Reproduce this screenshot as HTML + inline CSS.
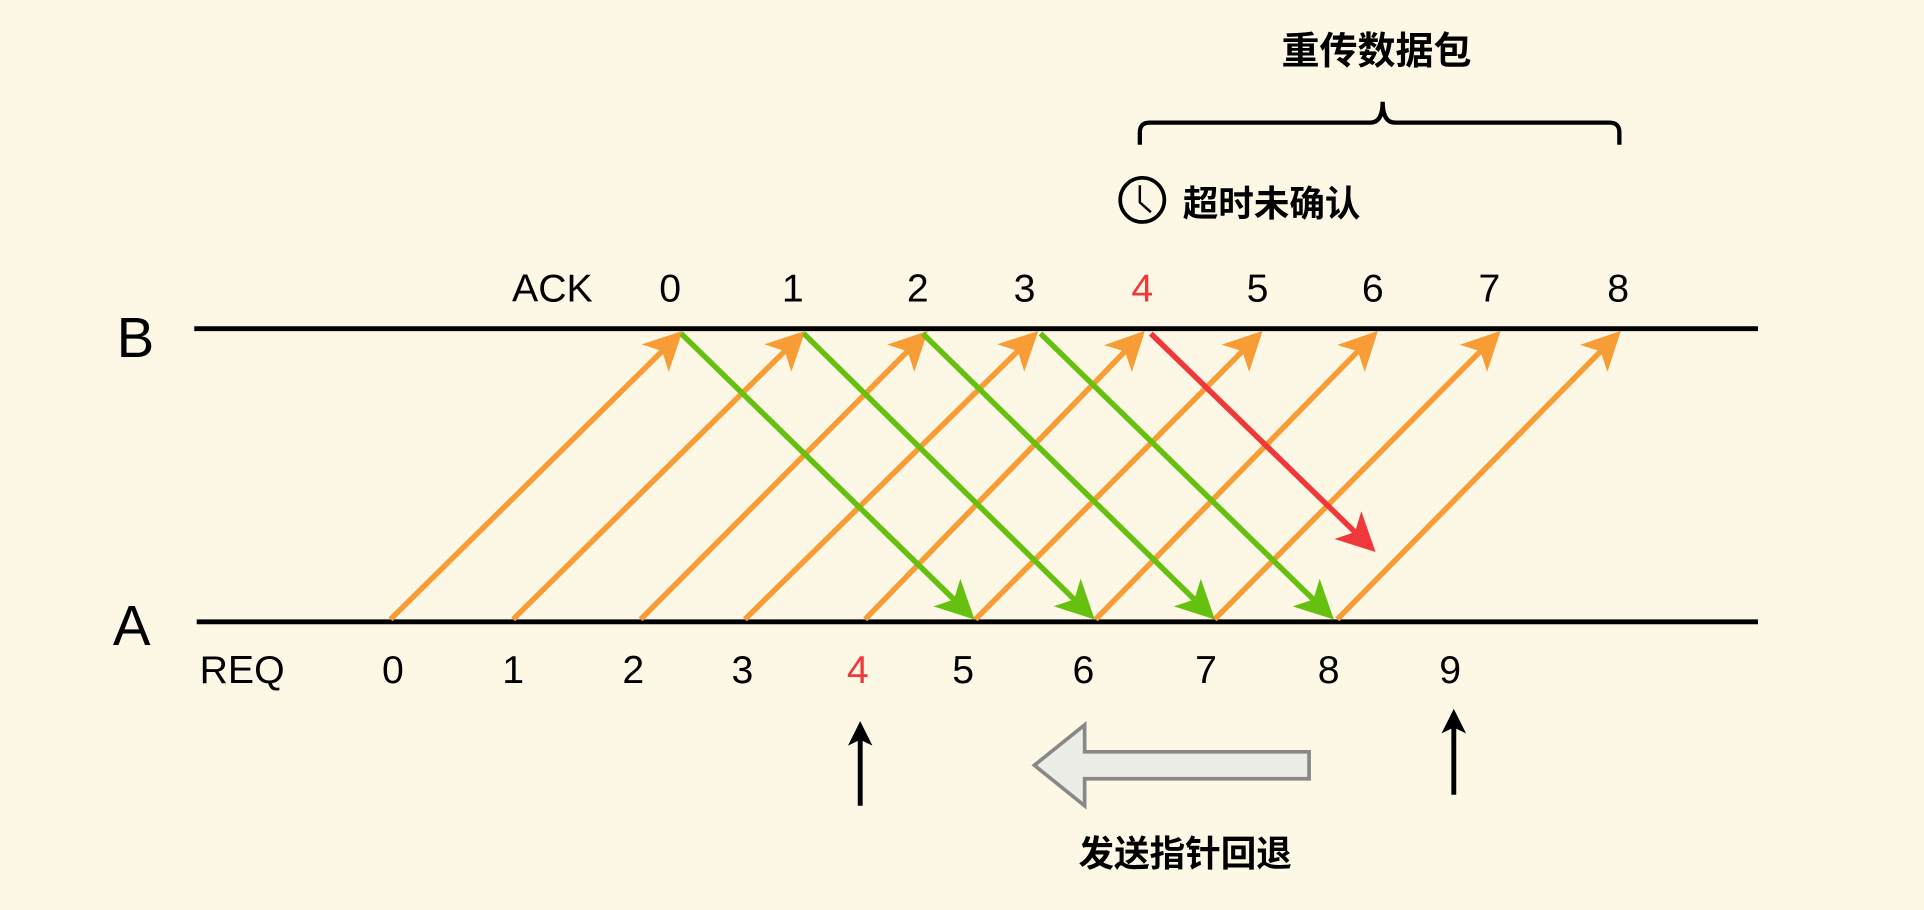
<!DOCTYPE html>
<html><head><meta charset="utf-8"><style>
html,body{margin:0;padding:0;background:#FDF8E6;}
svg{display:block;}
text{font-family:"Liberation Sans","Noto Sans CJK SC",sans-serif;}
</style></head><body>
<svg width="1924" height="910" viewBox="0 0 1568 742" xmlns="http://www.w3.org/2000/svg">
<defs>
<marker id="o" markerWidth="7" markerHeight="7" refX="6" refY="3.5" orient="auto" markerUnits="strokeWidth"><path d="M0,0 L7,3.5 L0,7 L1.8,3.5z" fill="#F89C36"/></marker>
<marker id="g" markerWidth="7" markerHeight="7" refX="6" refY="3.5" orient="auto" markerUnits="strokeWidth"><path d="M0,0 L7,3.5 L0,7 L1.8,3.5z" fill="#66C010"/></marker>
<marker id="r" markerWidth="7" markerHeight="7" refX="6" refY="3.5" orient="auto" markerUnits="strokeWidth"><path d="M0,0 L7,3.5 L0,7 L1.8,3.5z" fill="#F0383A"/></marker>
<marker id="k" markerWidth="5" markerHeight="5" refX="4" refY="2.5" orient="auto" markerUnits="strokeWidth"><path d="M0,0 L5,2.5 L0,5 L1.2,2.5z" fill="#000"/></marker>
</defs>
<rect width="1568" height="742" fill="#FDF8E6"/>
<line x1="158" y1="268" x2="1433" y2="268" stroke="#000" stroke-width="4"/>
<line x1="160" y1="507" x2="1433" y2="507" stroke="#000" stroke-width="4"/>
<text x="110" y="291" font-size="46" text-anchor="middle">B</text>
<text x="107" y="526" font-size="46" text-anchor="middle">A</text>
<g font-size="32" text-anchor="middle">
<text x="450" y="246">ACK</text>
<text x="546" y="246">0</text><text x="646" y="246">1</text><text x="748" y="246">2</text><text x="835" y="246">3</text>
<text x="931" y="246" fill="#F0383A">4</text><text x="1025" y="246">5</text><text x="1119" y="246">6</text><text x="1214" y="246">7</text><text x="1319" y="246">8</text>
<text x="197" y="557">REQ</text>
<text x="320" y="557">0</text><text x="418" y="557">1</text><text x="516" y="557">2</text><text x="605" y="557">3</text>
<text x="699" y="557" fill="#F0383A">4</text><text x="785" y="557">5</text><text x="883" y="557">6</text><text x="983" y="557">7</text><text x="1083" y="557">8</text><text x="1182" y="557">9</text>
</g>
<g stroke="#F89C36" stroke-width="4.5" marker-end="url(#o)">
<line x1="318" y1="505" x2="553" y2="273"/>
<line x1="418" y1="505" x2="653" y2="273"/>
<line x1="522" y1="505" x2="753" y2="273"/>
<line x1="607" y1="505" x2="843" y2="273"/>
<line x1="705" y1="505" x2="930" y2="273"/>
<line x1="795" y1="505" x2="1026" y2="273"/>
<line x1="893" y1="505" x2="1120" y2="273"/>
<line x1="990" y1="505" x2="1220" y2="273"/>
<line x1="1090" y1="505" x2="1318" y2="273"/>
</g>
<g stroke="#66C010" stroke-width="4.5" marker-end="url(#g)">
<line x1="555" y1="272" x2="791" y2="502"/>
<line x1="655" y1="272" x2="889" y2="502"/>
<line x1="752" y1="272" x2="987" y2="502"/>
<line x1="848" y1="272" x2="1084" y2="502"/>
</g>
<line x1="938" y1="272" x2="1118" y2="447" stroke="#F0383A" stroke-width="4.5" marker-end="url(#r)"/>
<path d="M929,118 V108 Q929,100 937,100 H1117 Q1127,100 1127,83 Q1127,100 1137,100 H1312 Q1320,100 1320,108 V118" fill="none" stroke="#000" stroke-width="3.5"/>
<text x="1122" y="52" font-size="31" font-weight="bold" text-anchor="middle">重传数据包</text>
<circle cx="931" cy="163" r="18" fill="none" stroke="#000" stroke-width="3"/>
<path d="M929,151 V165 L938,173" fill="none" stroke="#000" stroke-width="2"/>
<text x="964" y="176" font-size="29" font-weight="bold">超时未确认</text>
<line x1="701" y1="657" x2="701" y2="592" stroke="#000" stroke-width="4" marker-end="url(#k)"/>
<line x1="1185" y1="648" x2="1185" y2="582" stroke="#000" stroke-width="4" marker-end="url(#k)"/>
<path d="M1067,613 H884 V591 L843,624 L884,657 V635 H1067 Z" fill="#EDEDE8" stroke="#888" stroke-width="3"/>
<text x="966" y="706" font-size="29" font-weight="bold" text-anchor="middle">发送指针回退</text>
</svg>
</body></html>
